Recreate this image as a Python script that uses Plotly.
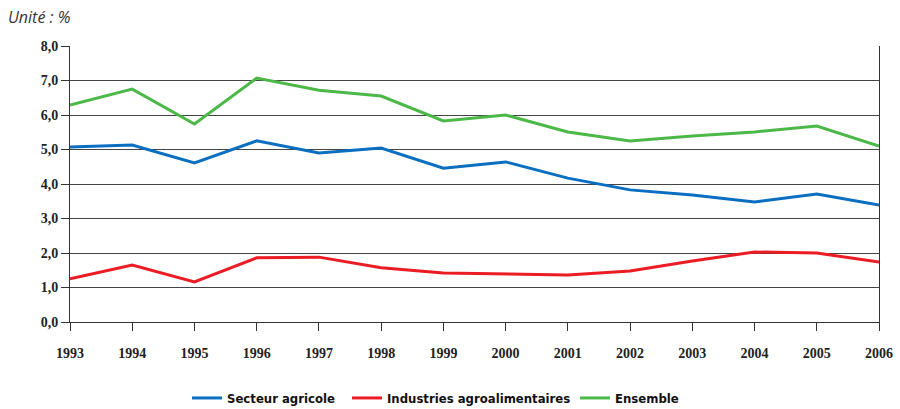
import plotly.graph_objects as go

years = [1993, 1994, 1995, 1996, 1997, 1998, 1999, 2000, 2001, 2002, 2003, 2004, 2005, 2006]
secteur_agricole = [5.07, 5.13, 4.61, 5.25, 4.90, 5.04, 4.46, 4.64, 4.17, 3.83, 3.68, 3.48, 3.71, 3.39]
industries_agro = [1.25, 1.65, 1.16, 1.86, 1.88, 1.57, 1.42, 1.39, 1.36, 1.48, 1.77, 2.03, 2.00, 1.74]
ensemble = [6.29, 6.75, 5.74, 7.07, 6.72, 6.55, 5.83, 6.00, 5.51, 5.25, 5.39, 5.51, 5.68, 5.10]
y_ticks = [0, 1, 2, 3, 4, 5, 6, 7, 8]
y_tick_labels = ["0,0", "1,0", "2,0", "3,0", "4,0", "5,0", "6,0", "7,0", "8,0"]

series = [
    ("Secteur agricole", secteur_agricole, "#0a6fc0", "legend"),
    ("Industries agroalimentaires", industries_agro, "#ec1c24", "legend2"),
    ("Ensemble", ensemble, "#4cb848", "legend3"),
]

fig = go.Figure()
for name, vals, col, lg in series:
    fig.add_trace(go.Scatter(x=years, y=vals, name=name, mode="lines",
                             line=dict(color=col, width=3), legend=lg))

legend_font = dict(family="DejaVu Sans Condensed, sans-serif", size=13, color="#111", weight="bold")
legend_y = 1 - 398/409

def mk_legend(px):
    return dict(orientation="h", xref="container", yref="container",
                x=px/900, xanchor="left", y=legend_y, yanchor="middle",
                font=legend_font, itemwidth=30, bgcolor="rgba(0,0,0,0)")

fig.update_layout(
    width=900, height=409,
    margin=dict(l=70, r=21, t=46, b=87, autoexpand=False),
    paper_bgcolor="white", plot_bgcolor="white",
    showlegend=True,
    legend=mk_legend(187),
    legend2=mk_legend(347),
    legend3=mk_legend(575),
)
fig.add_annotation(text="<i>Unité : %</i>", xref="paper", yref="paper",
                   x=-64/809, y=1 + 29/276, xanchor="left", yanchor="middle",
                   showarrow=False, font=dict(family="Open Sans", size=16, color="#333"))

fig.update_xaxes(
    range=[1993, 2006], tickvals=years, ticktext=[str(y) for y in years],
    showgrid=False, zeroline=False, showline=True, linecolor="#333", linewidth=1,
    mirror=False, ticks="outside", ticklen=8, tickcolor="#333", automargin=False,
    tickfont=dict(family="Liberation Serif", size=14, color="#222", weight="bold"),
    ticklabelstandoff=10,
)
fig.update_yaxes(
    range=[0, 8], tickvals=y_ticks, ticktext=y_tick_labels,
    showgrid=True, gridcolor="#444", gridwidth=1, zeroline=False,
    showline=True, linecolor="#333", linewidth=1, mirror=True, automargin=False,
    ticks="outside", ticklen=8, tickcolor="#333",
    tickfont=dict(family="Liberation Serif", size=14, color="#222", weight="bold"),
)

fig.write_html("out.html", config={"displayModeBar": False})

with open("out.html", "r", encoding="utf-8") as f:
    html = f.read()
html = html.replace("<head>", "<head><style>html,body{margin:0;padding:0;overflow:hidden;}</style>", 1)
with open("out.html", "w", encoding="utf-8") as f:
    f.write(html)
